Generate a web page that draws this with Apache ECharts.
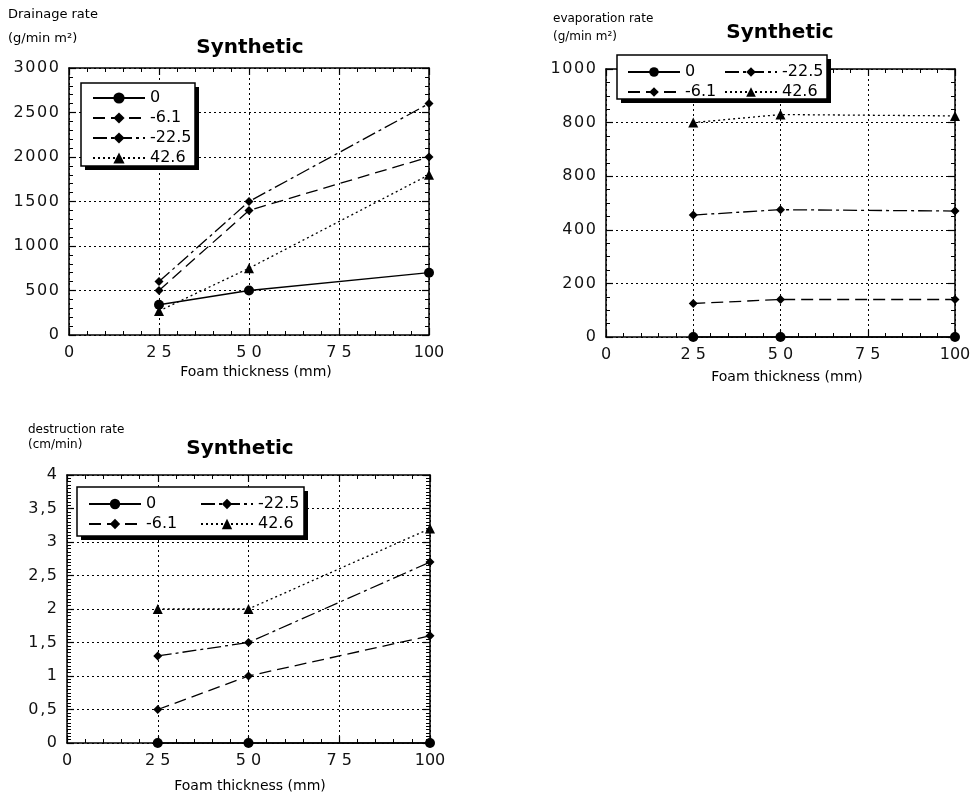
<!DOCTYPE html>
<html><head><meta charset="utf-8">
<script src="https://cdn.jsdelivr.net/npm/echarts@6/dist/echarts.min.js"></script>
<style>html,body{margin:0;padding:0;background:#fff}#c{width:979px;height:798px}</style>
</head><body><div id="c"></div>
<script>
// ---------- data ----------
const thickness = [25, 50, 100];
const seriesNames = ['0', '-6.1', '-22.5', '42.6'];

const drainage_0 = [340, 500, 700];
const drainage_m6_1 = [500, 1400, 2000];
const drainage_m22_5 = [600, 1500, 2600];
const drainage_42_6 = [270, 750, 1800];

const evaporation_0 = [0, 0, 0];
const evaporation_m6_1 = [125, 140, 140];
const evaporation_m22_5 = [455, 475, 470];
const evaporation_42_6 = [800, 830, 825];

const destruction_0 = [0, 0, 0];
const destruction_m6_1 = [0.5, 1.0, 1.6];
const destruction_m22_5 = [1.3, 1.5, 2.7];
const destruction_42_6 = [2.0, 2.0, 3.2];

const xTickValues = [0, 25, 50, 75, 100];
const xTickLabels = ['0', '2 5', '5 0', '7 5', '100'];
const drainageTickValues = [0, 500, 1000, 1500, 2000, 2500, 3000];
const drainageTickLabels = ['0', '500', '1000', '1500', '2000', '2500', '3000'];
const evaporationTickValues = [0, 200, 400, 600, 800, 1000];
const evaporationTickLabels = ['0', '200', '400', '800', '800', '1000'];
const destructionTickValues = [0, 0.5, 1, 1.5, 2, 2.5, 3, 3.5, 4];
const destructionTickLabels = ['0', '0,5', '1', '1,5', '2', '2,5', '3', '3,5', '4'];

// ---------- styling ----------
const FONT = 'DejaVu Sans';
const HAIR = '\u200A';
const spaced = s => s.split('').join(HAIR);
const styleOf = {
  '0':     { symbol: 'circle',   symbolSize: 10, type: 'solid' },
  '-6.1':  { symbol: 'diamond',  symbolSize: 9,  type: [12, 6] },
  '-22.5': { symbol: 'diamond',  symbolSize: 9,  type: [14, 4, 3, 4] },
  '42.6':  { symbol: 'triangle', symbolSize: 10, type: [2, 3] }
};

function lookup(values, labels, v, fmt) {
  for (let i = 0; i < values.length; i++) {
    if (Math.abs(values[i] - v) < 1e-9) return fmt ? fmt(labels[i]) : labels[i];
  }
  return '';
}

const panels = [
  { rect: { left: 69, top: 68, width: 360, height: 267 }, ymax: 3000, yint: 500, yminorInt: 100,
    ylab: v => lookup(drainageTickValues, drainageTickLabels, v, spaced),
    data: [drainage_0, drainage_m6_1, drainage_m22_5, drainage_42_6] },
  { rect: { left: 606, top: 69, width: 349, height: 268 }, ymax: 1000, yint: 200, yminorInt: 50,
    ylab: v => lookup(evaporationTickValues, evaporationTickLabels, v, spaced),
    data: [evaporation_0, evaporation_m6_1, evaporation_m22_5, evaporation_42_6] },
  { rect: { left: 67, top: 475, width: 363, height: 268 }, ymax: 4, yint: 0.5, yminorInt: 0.05,
    ylab: v => lookup(destructionTickValues, destructionTickLabels, v, spaced),
    data: [destruction_0, destruction_m6_1, destruction_m22_5, destruction_42_6] }
];

const grids = [], xAxes = [], yAxes = [], series = [];

function hiddenAxis(gi, min, max) {
  return { gridIndex: gi, type: 'value', min: min, max: max,
    axisLine: { show: false }, axisTick: { show: false }, axisLabel: { show: false },
    splitLine: { show: false } };
}
function lineAxis(gi, min, max, interval, position, lineType, width) {
  return {
    gridIndex: gi, type: 'value', min: min, max: max, interval: interval, position: position,
    axisLine: { show: false, onZero: false }, axisTick: { show: false },
    axisLabel: { show: false },
    splitLine: { show: true, lineStyle: { color: '#000', width: width, type: lineType } }
  };
}
function addGrid(rect, xAx, yAx) {
  const gi = grids.length;
  grids.push(rect);
  xAxes.push(xAx(gi));
  yAxes.push(yAx(gi));
  return gi;
}
// short tick strips along an edge: grid lines of a thin grid act as ticks
function tickStrip(r, side, len, min, max, interval, width) {
  let rect;
  if (side === 'bottom') rect = { left: r.left, top: r.top + r.height - len, width: r.width, height: len };
  if (side === 'top') rect = { left: r.left, top: r.top, width: r.width, height: len };
  if (side === 'left') rect = { left: r.left, top: r.top, width: len, height: r.height };
  if (side === 'right') rect = { left: r.left + r.width - len, top: r.top, width: len, height: r.height };
  if (side === 'bottom' || side === 'top') {
    addGrid(rect, gi => lineAxis(gi, min, max, interval, 'bottom', 'solid', width), gi => hiddenAxis(gi, 0, 1));
  } else {
    addGrid(rect, gi => hiddenAxis(gi, 0, 1), gi => lineAxis(gi, min, max, interval, 'left', 'solid', width));
  }
}

panels.forEach((p) => {
  const r = p.rect;
  const xlab = v => lookup(xTickValues, xTickLabels, v);
  // main grid: frame + labels + series
  const gMain = addGrid(Object.assign({}, r),
    gi => ({ gridIndex: gi, type: 'value', min: 0, max: 100, interval: 25, position: 'bottom',
      axisLine: { show: true, onZero: false, lineStyle: { color: '#000', width: 1.5 } },
      axisTick: { show: false }, splitLine: { show: false },
      axisLabel: { show: true, margin: 10, fontSize: 16, color: '#111', fontFamily: FONT, formatter: xlab } }),
    gi => ({ gridIndex: gi, type: 'value', min: 0, max: p.ymax, interval: p.yint, position: 'left',
      axisLine: { show: true, onZero: false, lineStyle: { color: '#000', width: 1.5 } },
      axisTick: { show: false }, splitLine: { show: false },
      axisLabel: { show: true, margin: 10, fontSize: 16, color: '#111', fontFamily: FONT, formatter: p.ylab } }));
  // opposite frame sides
  addGrid(Object.assign({}, r),
    gi => ({ gridIndex: gi, type: 'value', min: 0, max: 100, interval: 25, position: 'top',
      axisLine: { show: true, onZero: false, lineStyle: { color: '#000', width: 1.5 } },
      axisTick: { show: false }, axisLabel: { show: false }, splitLine: { show: false } }),
    gi => ({ gridIndex: gi, type: 'value', min: 0, max: p.ymax, interval: p.yint, position: 'right',
      axisLine: { show: true, onZero: false, lineStyle: { color: '#000', width: 1.5 } },
      axisTick: { show: false }, axisLabel: { show: false }, splitLine: { show: false } }));
  // dotted grid lines
  addGrid(Object.assign({}, r),
    gi => lineAxis(gi, 0, 100, 25, 'bottom', [2, 3], 1),
    gi => lineAxis(gi, 0, p.ymax, p.yint, 'left', [2, 3], 1));
  // ticks: major (7px) and minor (4px) on all four sides
  ['bottom', 'top'].forEach(side => {
    tickStrip(r, side, 7, 0, 100, 25, 1.2);
    tickStrip(r, side, 4, 0, 100, 5, 1);
  });
  ['left', 'right'].forEach(side => {
    tickStrip(r, side, 7, 0, p.ymax, p.yint, 1.2);
    tickStrip(r, side, 4, 0, p.ymax, p.yminorInt, 1);
  });

  seriesNames.forEach((name, k) => {
    const st = styleOf[name];
    series.push({
      type: 'line', name: name, xAxisIndex: gMain, yAxisIndex: gMain,
      data: thickness.map((x, i) => [x, p.data[k][i]]),
      symbol: st.symbol, symbolSize: st.symbolSize, showSymbol: true,
      itemStyle: { color: '#000' },
      lineStyle: { color: '#000', width: 1.3, type: st.type },
      clip: false, z: 3
    });
  });
});

function legend(left, top, names, itemHeight, gap) {
  return {
    left: left, top: top, orient: 'vertical', data: names,
    itemWidth: 52, itemHeight: itemHeight, itemGap: gap, padding: 0,
    selectedMode: false, z: 20,
    textStyle: { fontSize: 16, fontFamily: FONT, color: '#000' }
  };
}

function box(x, y, w, h) {
  return [
    { type: 'rect', z: 10, shape: { x: x + 4, y: y + 4, width: w, height: h }, style: { fill: '#000' } },
    { type: 'rect', z: 11, shape: { x: x, y: y, width: w, height: h }, style: { fill: '#fff', stroke: '#000', lineWidth: 1.5 } }
  ];
}

function txt(x, y, text, size, opts) {
  opts = opts || {};
  return { type: 'text', z: 12, style: {
    x: x, y: y, text: text, fill: '#000',
    font: (opts.bold ? 'bold ' : '') + size + 'px "' + FONT + '"',
    align: opts.align || 'left', verticalAlign: 'middle' } };
}

const option = {
  animation: false,
  grid: grids,
  xAxis: xAxes,
  yAxis: yAxes,
  legend: [
    legend(92, 90, seriesNames, 14, 4),
    legend(627, 64, ['0', '-6.1'], 12, 4),
    legend(724, 64, ['-22.5', '42.6'], 12, 4),
    legend(88, 496, ['0', '-6.1'], 13, 4),
    legend(200, 496, ['-22.5', '42.6'], 13, 4)
  ],
  graphic: [].concat(
    box(81, 83, 114, 83),
    box(617, 55, 210, 44),
    box(77, 487, 227, 49),
    [
      txt(8, 15, 'Drainage rate', 13),
      txt(8, 39, '(g/min m²)', 13),
      txt(250, 48, 'Synthetic', 20, { bold: true, align: 'center' }),
      txt(256, 372, 'Foam thickness (mm)', 14, { align: 'center' }),

      txt(553, 19, 'evaporation rate', 12),
      txt(553, 37, '(g/min m²)', 12),
      txt(780, 33, 'Synthetic', 20, { bold: true, align: 'center' }),
      txt(787, 377, 'Foam thickness (mm)', 14, { align: 'center' }),

      txt(28, 430, 'destruction rate', 12),
      txt(28, 445, '(cm/min)', 12),
      txt(240, 449, 'Synthetic', 20, { bold: true, align: 'center' }),
      txt(250, 786, 'Foam thickness (mm)', 14, { align: 'center' })
    ]
  ),
  series: series
};

const chart = echarts.init(document.getElementById('c'));
chart.setOption(option);
</script>
</body></html>
